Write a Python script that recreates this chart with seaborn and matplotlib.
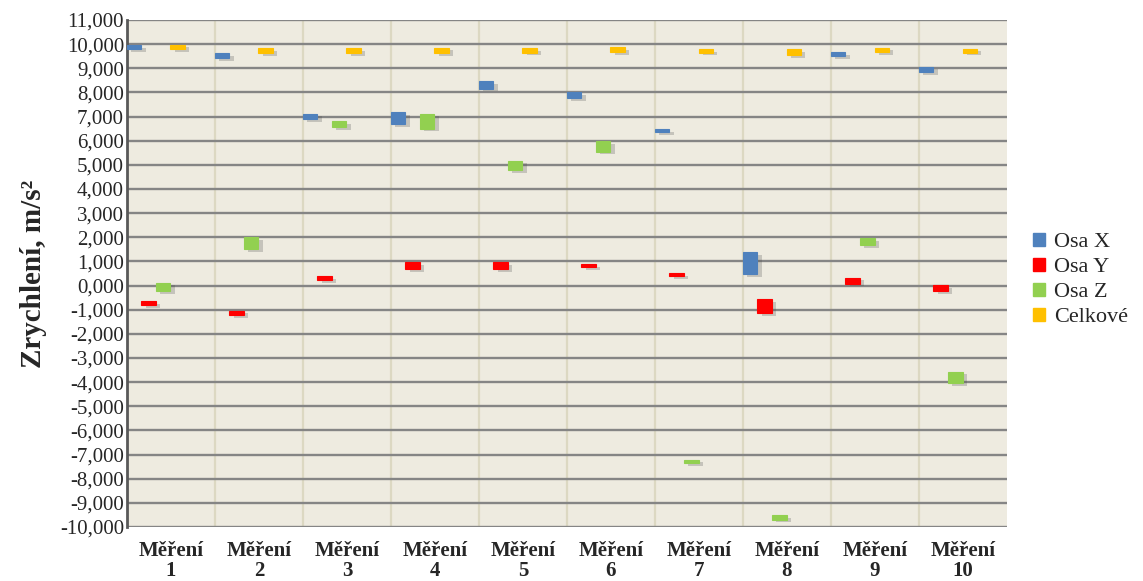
import numpy as np
import pandas as pd
import matplotlib
matplotlib.use("Agg")
import matplotlib.pyplot as plt
import matplotlib.patheffects as pe
from matplotlib.patches import Patch
import seaborn as sns

categories = [f"Měření\n{i}" for i in range(1, 11)]
series_names = ["Osa X", "Osa Y", "Osa Z", "Celkové"]
series_colors = ["#4f81bd", "#ff0000", "#92d050", "#ffc000"]

osa_x_low = [9.78, 9.42, 6.89, 6.70, 8.16, 7.76, 6.35, 0.48, 9.51, 8.85]
osa_x_high = [9.95, 9.64, 7.12, 7.19, 8.46, 8.01, 6.49, 1.40, 9.68, 9.07]
osa_y_low = [-0.80, -1.21, 0.22, 0.69, 0.69, 0.75, 0.39, -1.15, 0.08, -0.22]
osa_y_high = [-0.65, -1.04, 0.39, 0.97, 0.97, 0.88, 0.51, -0.55, 0.33, 0.01]
osa_z_low = [-0.24, 1.52, 6.57, 6.50, 4.79, 5.55, -7.36, -9.69, 1.69, -4.03]
osa_z_high = [0.12, 2.00, 6.81, 7.12, 5.18, 5.97, -7.21, -9.51, 1.98, -3.56]
celk_low = [9.79, 9.64, 9.64, 9.64, 9.65, 9.67, 9.65, 9.56, 9.68, 9.65]
celk_high = [9.98, 9.82, 9.82, 9.86, 9.82, 9.89, 9.78, 9.78, 9.86, 9.81]

lows = [osa_x_low, osa_y_low, osa_z_low, celk_low]
highs = [osa_x_high, osa_y_high, osa_z_high, celk_high]

y_ticks = list(range(-10, 12))

sns.set_theme(style="white")
plt.rcParams["font.family"] = ["Liberation Serif", "DejaVu Serif"]

fig = plt.figure(figsize=(11.43, 5.81), dpi=100)
ax = fig.add_axes([0.111, 0.0929, 0.770, 0.8727])
ax.set_facecolor("#eeebe0")

bar_w = 0.165
idx = np.arange(len(categories))
for k, (name, col, lo, hi) in enumerate(zip(series_names, series_colors, lows, highs)):
    lo = np.array(lo)
    hi = np.array(hi)
    pos = idx - 0.5 + (k + 0.5) * bar_w
    df = pd.DataFrame({"pos": pos, "h": hi - lo})
    n_before = len(ax.patches)
    sns.barplot(data=df, x="pos", y="h", native_scale=True, width=bar_w,
                color=col, saturation=1, errorbar=None, bottom=lo, ax=ax,
                linewidth=0.8, edgecolor=col, zorder=3)
    for p in ax.patches[n_before:]:
        p.set_path_effects([pe.SimplePatchShadow(offset=(3, -2), shadow_rgbFace="0.3", alpha=0.25),
                            pe.Normal()])

# grid lines
for v in y_ticks:
    ax.axhline(v, color="#858585", lw=1.7, zorder=1)
for i in range(len(categories) - 1):
    ax.axvline(i + 0.5, color="#dcd8c2", lw=1.6, zorder=0.5)

ax.set_xlim(-0.5, len(categories) - 0.5)
ax.set_ylim(-10, 11)
ax.set_yticks(y_ticks)
ax.set_yticklabels([f"{v:.3f}".replace(".", ",") for v in y_ticks], fontsize=15)
ax.set_xticks(idx)
ax.set_xticklabels(categories, fontsize=15, fontweight="bold", linespacing=1.0)
ax.tick_params(axis="y", length=0, pad=2)
ax.tick_params(axis="x", length=0, pad=10)
ax.set_xlabel("")
ax.set_ylabel("Zrychlení, m/s²", fontsize=21, fontweight="bold", labelpad=9)

for s in ["top", "right", "bottom"]:
    ax.spines[s].set_visible(False)
ax.spines["left"].set_color("#595959")
ax.spines["left"].set_linewidth(2)

handles = [Patch(facecolor=c, edgecolor=c, label=n) for n, c in zip(series_names, series_colors)]
fig.legend(handles=handles, loc="center left", bbox_to_anchor=(0.886, 0.518),
           frameon=False, fontsize=16, handlelength=0.55, handleheight=0.55,
           handletextpad=0.4, labelspacing=0.25)

fig.savefig("out.png", dpi=100)
